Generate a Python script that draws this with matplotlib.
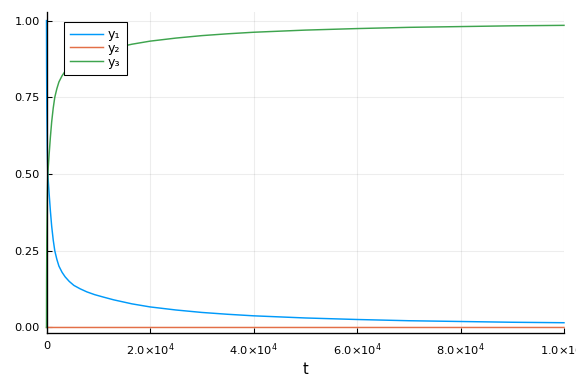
"""Robertson kinetics: y1, y2, y3 against t"""

import matplotlib
matplotlib.use('Agg')
import matplotlib.pyplot as plt

# values
t = [0, 20, 60, 150, 250, 500, 750, 1000, 1300, 1600, 2000, 2400, 3000,
     3600, 4400, 5300, 6500, 7800, 9300, 11000, 13000, 16500, 20000,
     25000, 30000, 35000, 40000, 50000, 60000, 70000, 80000, 90000, 100000]
y1 = [1.0, 0.85, 0.72, 0.58, 0.5, 0.438, 0.38, 0.33, 0.285, 0.25, 0.222,
      0.2, 0.18, 0.165, 0.15, 0.137, 0.126, 0.116, 0.107, 0.099, 0.09,
      0.077, 0.067, 0.057, 0.049, 0.043, 0.038, 0.031, 0.026, 0.022,
      0.0195, 0.017, 0.0155]
y2 = [0.0, 3.4e-5, 3.5e-5, 3.2e-5, 3.0e-5, 2.6e-5, 2.3e-5, 2.1e-5, 1.9e-5,
      1.7e-5, 1.5e-5, 1.3e-5, 1.1e-5, 1.0e-5, 9e-6, 8e-6, 7e-6, 6e-6,
      5e-6, 4.5e-6, 4e-6, 3.5e-6, 3e-6, 2.5e-6, 2e-6, 1.7e-6, 1.5e-6,
      1.2e-6, 1e-6, 8e-7, 7e-7, 6e-7, 5e-7]
y3 = [0.0, 0.15, 0.28, 0.42, 0.5, 0.562, 0.62, 0.67, 0.715, 0.75, 0.778,
      0.8, 0.82, 0.835, 0.85, 0.863, 0.874, 0.884, 0.893, 0.901, 0.91,
      0.923, 0.933, 0.943, 0.951, 0.957, 0.962, 0.969, 0.974, 0.978,
      0.9805, 0.983, 0.9845]

x_ticks = [0, 20000, 40000, 60000, 80000, 100000]
x_tick_labels = ['0', r'$2.0{\times}10^{4}$', r'$4.0{\times}10^{4}$',
                 r'$6.0{\times}10^{4}$', r'$8.0{\times}10^{4}$', r'$1.0{\times}10^{5}$']
y_ticks = [0.0, 0.25, 0.5, 0.75, 1.0]
names = ['y₁', 'y₂', 'y₃']
colors = ['#009AFA', '#E36F47', '#3EA44E']

fig = plt.figure(figsize=(6, 4), dpi=96)
ax = fig.add_axes([46.5 / 576, 51 / 384, 517.5 / 576, 321 / 384])
for series, name, color in zip((y1, y2, y3), names, colors):
    ax.plot(t, series, color=color, lw=1.1, label=name, clip_on=False)

ax.set_xlim(0, 100000)
ax.set_ylim(-0.018, 1.028)
ax.spines['top'].set_visible(False)
ax.spines['right'].set_visible(False)
ax.spines['left'].set_linewidth(1.0)
ax.spines['bottom'].set_linewidth(1.0)
ax.set_axisbelow(True)

ax.set_xticks(x_ticks)
ax.set_xticklabels(x_tick_labels)
ax.set_yticks(y_ticks)
ax.set_yticklabels(['{:.2f}'.format(v) for v in y_ticks])
ax.tick_params(direction='in', length=4, width=0.8, labelsize=8.5)
ax.tick_params(axis='y', pad=5)
ax.tick_params(axis='x', pad=6)
ax.grid(True, color='black', alpha=0.07, lw=0.8)
ax.set_xlabel('t', fontsize=11, labelpad=3)

leg = ax.legend(loc='upper left', bbox_to_anchor=(0.033, 0.969), borderaxespad=0,
                fontsize=9.5, fancybox=False, edgecolor='black', framealpha=1,
                handlelength=2.6, handletextpad=0.4, borderpad=0.5,
                labelspacing=0.05)
leg.get_frame().set_linewidth(0.8)

fig.savefig('out.png', dpi=96)
